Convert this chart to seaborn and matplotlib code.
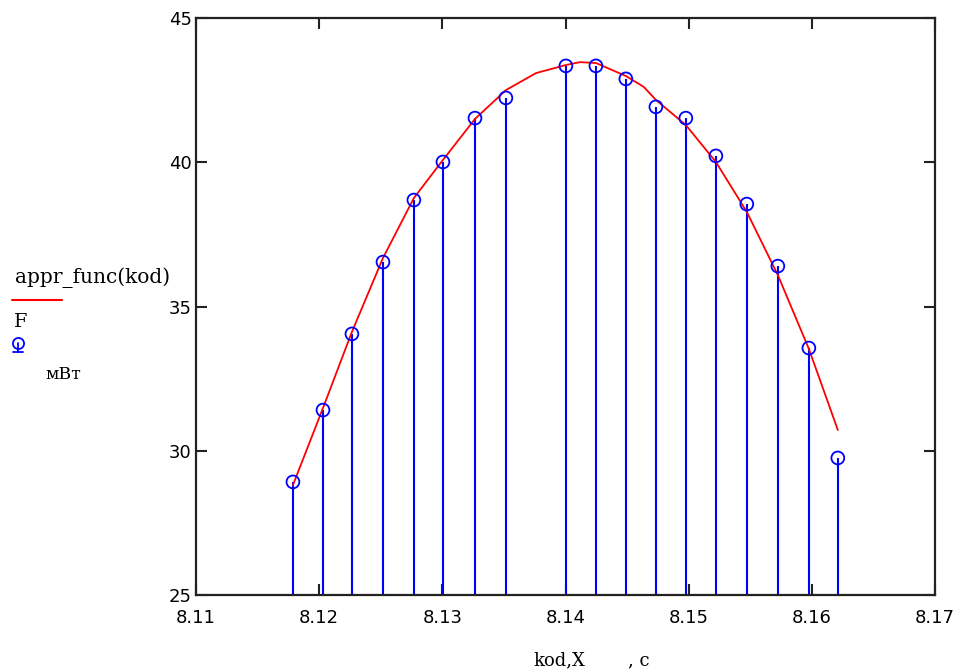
import matplotlib
matplotlib.use("Agg")
import matplotlib.pyplot as plt
import seaborn as sns
import pandas as pd

# measured points F (mW) vs X (s)
x_meas = [8.11787, 8.12031, 8.12266, 8.12518, 8.12769, 8.13005, 8.13265, 8.13516,
          8.14003, 8.14247, 8.14490, 8.14734, 8.14977, 8.15221, 8.15472, 8.15724,
          8.15976, 8.16211]
f_meas = [28.92, 31.41, 34.05, 36.54, 38.69, 40.01, 41.53, 42.23,
          43.34, 43.34, 42.89, 41.92, 41.53, 40.22, 38.55, 36.40,
          33.56, 29.75]

# approximating function
x_fit = [8.11787, 8.12031, 8.12266, 8.12518, 8.12769, 8.13005, 8.13265, 8.13516,
         8.13760, 8.14003, 8.14117, 8.14247, 8.14490, 8.14636, 8.14734, 8.14977,
         8.15221, 8.15472, 8.15724, 8.15976, 8.16211]
f_fit = [28.81, 31.48, 34.12, 36.68, 38.76, 40.08, 41.50, 42.50,
         43.09, 43.37, 43.47, 43.44, 42.99, 42.61, 42.16, 41.29,
         40.01, 38.28, 36.09, 33.53, 30.72]

x_ticks = [8.11, 8.12, 8.13, 8.14, 8.15, 8.16, 8.17]
y_ticks = [25, 30, 35, 40, 45]

sns.set_style("white")
plt.rcParams["font.family"] = ["DejaVu Sans"]
plt.rcParams["text.color"] = "black"

fig = plt.figure(figsize=(9.54, 6.69), dpi=100)
ax = fig.add_axes([196 / 954, 1 - 595 / 669, (935 - 196) / 954, (595 - 18) / 669])

df_meas = pd.DataFrame({"x": x_meas, "F": f_meas})
df_fit = pd.DataFrame({"x": x_fit, "F": f_fit})

ax.vlines(df_meas["x"], 25, df_meas["F"], color="#0000ff", lw=1.5, zorder=2)
sns.lineplot(data=df_fit, x="x", y="F", ax=ax, color="#ff0000", lw=1.3,
             sort=False, zorder=3)
sns.scatterplot(data=df_meas, x="x", y="F", ax=ax, marker="o", s=85,
                facecolors="none", edgecolor="#0000ff", linewidth=1.3, zorder=4)

ax.set_xlim(8.11, 8.17)
ax.set_ylim(25, 45)
ax.set_xticks(x_ticks)
ax.set_xticklabels([f"{v:.2f}" for v in x_ticks])
ax.set_yticks(y_ticks)
ax.set_yticklabels([str(v) for v in y_ticks])
ax.tick_params(direction="in", length=8, width=1.5, color="#222222",
               labelcolor="black", labelsize=13, top=True, right=True,
               bottom=True, left=True)
ax.tick_params(axis="x", pad=10)
ax.tick_params(axis="y", pad=3)
for sp in ax.spines.values():
    sp.set_color("#222222")
    sp.set_linewidth(1.6)
ax.set_xlabel("")
ax.set_ylabel("")

# x-axis label
fig.text(533 / 954, 1 - 660 / 669, "kod,X", family="DejaVu Serif", fontsize=13,
         ha="left", va="center")
fig.text(628 / 954, 1 - 660 / 669, ", c", family="DejaVu Serif", fontsize=13,
         ha="left", va="center")

# legend (left side)
fig.text(15 / 954, 1 - 278 / 669, "appr_func(kod)", family="DejaVu Serif",
         fontsize=14.5, ha="left", va="center")
fig.add_artist(plt.Line2D([12 / 954, 62 / 954], [1 - 300 / 669, 1 - 300 / 669],
                          color="#ff0000", lw=1.5))
fig.text(14 / 954, 1 - 322 / 669, "F", family="DejaVu Serif", fontsize=14,
         ha="left", va="center")
fig.add_artist(plt.Line2D([18 / 954], [1 - 343 / 669], marker="o", ms=8,
                          mfc="none", mec="#0000ff", mew=1.3, ls="none"))
fig.add_artist(plt.Line2D([18 / 954, 18 / 954], [1 - 343 / 669, 1 - 352 / 669],
                          color="#0000ff", lw=1.3))
fig.add_artist(plt.Line2D([13 / 954, 23 / 954], [1 - 352 / 669, 1 - 352 / 669],
                          color="#0000ff", lw=1.3))
fig.text(45 / 954, 1 - 375 / 669, "мВт", family="DejaVu Serif", fontsize=12.5,
         ha="left", va="center")

fig.savefig("out.png", dpi=100)
